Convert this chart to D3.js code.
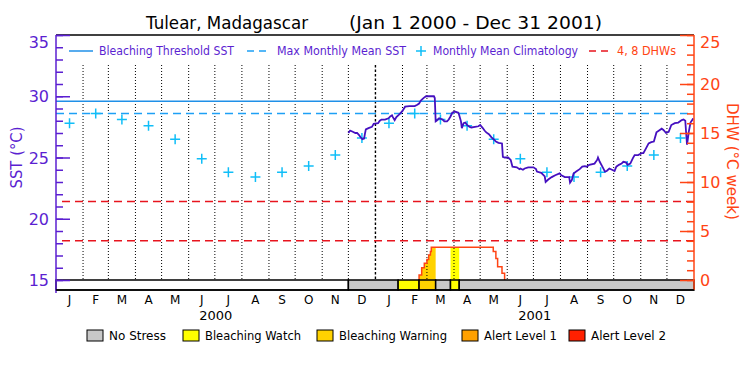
<!DOCTYPE html>
<html>
<head>
<meta charset="utf-8">
<style>
body { margin: 0; background: #fff; }
text { font-family: "DejaVu Sans", sans-serif; }
</style>
<script src="https://cdn.jsdelivr.net/npm/d3@7"></script>
</head>
<body>
<svg id="chart" width="750" height="375"></svg>
<script>
// month letters and year labels on the bottom axis
var monthLetters = ["J","F","M","A","M","J","J","A","S","O","N","D"];
var yearLabels = ["2000", "2001"];

// monthly mean climatology (same for both years)
var climatology = [27.8, 28.6, 28.1, 27.6, 26.5, 24.9, 23.8, 23.4, 23.8, 24.3, 25.2, 26.6];
var maxMonthlyMean = 28.6;
var bleachThreshold = 29.6;
var dhwLevels = [4, 8];

// satellite SST, Dec 2000 - Dec 2001
var sstDates = [
  "2000-12-01","2000-12-03","2000-12-06","2000-12-09","2000-12-11","2000-12-13","2000-12-15","2000-12-17","2000-12-19","2000-12-20","2000-12-21","2000-12-24","2000-12-28","2000-12-30",
  "2001-01-04","2001-01-06","2001-01-08","2001-01-12","2001-01-16","2001-01-18","2001-01-20","2001-01-21","2001-01-23","2001-01-25","2001-01-28","2001-01-30",
  "2001-02-01","2001-02-04","2001-02-09","2001-02-15","2001-02-18","2001-02-20","2001-02-22","2001-02-25","2001-02-28",
  "2001-03-04","2001-03-09","2001-03-10","2001-03-11","2001-03-12","2001-03-15","2001-03-19","2001-03-21","2001-03-24","2001-03-26","2001-03-28","2001-03-30",
  "2001-04-02","2001-04-06","2001-04-07","2001-04-09","2001-04-10","2001-04-12","2001-04-14","2001-04-16","2001-04-19","2001-04-21","2001-04-25","2001-04-29",
  "2001-05-01","2001-05-04","2001-05-06","2001-05-08","2001-05-11","2001-05-14","2001-05-17","2001-05-19","2001-05-22","2001-05-26","2001-05-27","2001-05-29",
  "2001-06-02","2001-06-05","2001-06-07","2001-06-12","2001-06-15","2001-06-16","2001-06-19","2001-06-21","2001-06-25",
  "2001-07-01","2001-07-04","2001-07-05","2001-07-10","2001-07-14","2001-07-15","2001-07-18","2001-07-22","2001-07-26","2001-07-31",
  "2001-08-02","2001-08-06","2001-08-11","2001-08-12","2001-08-14","2001-08-16","2001-08-19","2001-08-23","2001-08-26","2001-08-29","2001-08-31",
  "2001-09-03","2001-09-09","2001-09-12","2001-09-13","2001-09-15","2001-09-18","2001-09-21","2001-09-23","2001-09-26","2001-09-29",
  "2001-10-02","2001-10-04","2001-10-07","2001-10-10","2001-10-12","2001-10-15","2001-10-17","2001-10-20","2001-10-23","2001-10-25","2001-10-29",
  "2001-11-02","2001-11-04","2001-11-07","2001-11-10","2001-11-13","2001-11-16","2001-11-17","2001-11-19","2001-11-22","2001-11-25","2001-11-27","2001-11-30",
  "2001-12-03","2001-12-06","2001-12-10","2001-12-14","2001-12-18","2001-12-20","2001-12-22","2001-12-23","2001-12-24","2001-12-25","2001-12-26","2001-12-28","2001-12-30","2001-12-31"
];
var sstValues = [
  27.0,27.2,27.1,27.0,27.0,26.85,26.65,26.5,26.55,26.95,27.3,27.4,27.5,27.75,
  27.8,28.0,28.1,28.1,28.2,28.35,28.45,28.3,28.05,28.3,28.5,28.65,
  28.8,29.15,29.2,29.2,29.3,29.4,29.65,29.85,30.0,
  30.0,30.0,29.85,27.95,28.0,28.2,28.1,27.95,27.95,28.1,28.35,28.65,
  28.75,28.65,28.45,27.95,27.4,27.8,27.85,27.65,27.5,27.45,27.5,27.55,
  27.65,27.4,27.2,27.05,26.9,26.65,26.45,26.3,26.2,26.15,25.05,25.0,
  25.0,24.8,24.25,24.2,24.05,24.1,24.0,24.1,24.2,
  24.2,24.05,23.85,23.75,23.45,23.0,23.2,23.4,23.55,23.7,
  23.55,23.4,23.4,22.95,23.15,23.7,23.85,24.05,24.25,24.3,24.25,
  24.4,24.5,24.8,25.0,24.65,24.25,23.85,23.9,24.1,24.0,
  23.9,24.25,24.4,24.5,24.65,24.6,24.4,24.5,24.95,25.2,25.2,
  25.35,25.35,25.75,26.15,26.25,26.3,26.55,27.05,27.2,27.35,27.25,27.0,
  27.1,27.65,27.8,27.85,28.05,28.1,28.0,27.0,26.05,26.55,27.1,27.85,28.05,28.2
];

// degree heating weeks
var dhwDates = ["2001-02-19","2001-02-20","2001-02-23","2001-02-26","2001-03-01","2001-03-03","2001-03-05","2001-03-06","2001-05-16","2001-05-19","2001-05-21","2001-05-26","2001-05-29"];
var dhwValues = [0, 0.5, 1.25, 1.7, 2.1, 2.55, 2.9, 3.35, 2.9, 2.2, 1.35, 0.7, 0];

// bleaching alert status periods (0 no stress, 1 watch, 2 warning)
var statusStart = ["2000-12-01","2001-01-27","2001-02-20","2001-03-11","2001-03-28","2001-04-07"];
var statusEnd   = ["2001-01-27","2001-02-20","2001-03-11","2001-03-28","2001-04-07","2002-01-01"];
var statusLevel = [0, 1, 2, 0, 1, 0];

var statusNames  = ["No Stress","Bleaching Watch","Bleaching Warning","Alert Level 1","Alert Level 2"];
var statusColors = ["#c8c8c8","#ffff00","#ffd200","#ffa000","#ff2000"];

var purple = "#5b1fd1", orange = "#ff4414";

var parse = d3.utcParse("%Y-%m-%d");
var svg = d3.select("#chart");

var plotL = 56, plotR = 694, plotT = 35, plotB = 280, barB = 290, gridT = 65;

var x = d3.scaleUtc().domain([parse("2000-01-01"), parse("2002-01-01")]).range([plotL, plotR]);
var ySst = d3.scaleLinear().domain([15, 35]).range([plotB, plotT]);
var yDhw = d3.scaleLinear().domain([0, 25]).range([plotB, plotT]);

var months = d3.utcMonth.range(x.domain()[0], x.domain()[1]);
function midX(m) { return (x(m) + x(d3.utcMonth.offset(m, 1))) / 2; }

var sst = sstDates.map(function(d, i) { return {date: parse(d), v: sstValues[i]}; });
var dhw = dhwDates.map(function(d, i) { return {date: parse(d), v: dhwValues[i]}; });

function txt(g, s, tx, ty, len, size, color) {
  return g.append("text").attr("x", tx).attr("y", ty)
    .attr("font-size", size).attr("fill", color)
    .attr("textLength", len).attr("lengthAdjust", "spacingAndGlyphs").text(s);
}

// title
txt(svg, "Tulear, Madagascar", 146, 29, 162, 17, "#000");
txt(svg, "(Jan 1 2000 - Dec 31 2001)", 349, 29, 253, 17, "#000");

// DHW fills coloured by alert status
var area = d3.area().x(function(d) { return x(d.date); })
  .y0(plotB).y1(function(d) { return yDhw(d.v); }).curve(d3.curveStepAfter);
statusStart.forEach(function(s, i) {
  if (statusLevel[i] === 0) return;
  var id = "clip" + i;
  svg.append("clipPath").attr("id", id).append("rect")
    .attr("x", x(parse(s))).attr("width", x(parse(statusEnd[i])) - x(parse(s)))
    .attr("y", plotT).attr("height", plotB - plotT);
  svg.append("path").datum(dhw).attr("d", area)
    .attr("fill", statusColors[statusLevel[i]]).attr("clip-path", "url(#" + id + ")");
});

// dotted month lines
svg.append("g").selectAll("line").data(months.slice(1)).join("line")
  .attr("x1", function(d) { return x(d); }).attr("x2", function(d) { return x(d); })
  .attr("y1", gridT).attr("y2", plotB)
  .attr("stroke", "#000")
  .attr("stroke-width", function(d) { return d.getUTCMonth() === 0 ? 1.4 : 1; })
  .attr("stroke-dasharray", function(d) { return d.getUTCMonth() === 0 ? "2.5,2" : "1,2"; });

// reference lines
svg.append("line").attr("x1", plotL).attr("x2", plotR)
  .attr("y1", ySst(bleachThreshold)).attr("y2", ySst(bleachThreshold))
  .attr("stroke", "#2090e8").attr("stroke-width", 1.5);
svg.append("line").attr("x1", plotL).attr("x2", plotR)
  .attr("y1", ySst(maxMonthlyMean)).attr("y2", ySst(maxMonthlyMean))
  .attr("stroke", "#1ea0f5").attr("stroke-width", 1.5).attr("stroke-dasharray", "8,5");
svg.append("g").selectAll("line").data(dhwLevels).join("line")
  .attr("x1", plotL + 6).attr("x2", plotR)
  .attr("y1", function(d) { return yDhw(d); }).attr("y2", function(d) { return yDhw(d); })
  .attr("stroke", "#e8141e").attr("stroke-width", 1.5).attr("stroke-dasharray", "8,5");

// climatology crosses
var clim = months.map(function(m) { return {m: m, v: climatology[m.getUTCMonth()]}; });
svg.append("g").selectAll("path").data(clim).join("path")
  .attr("transform", function(d) { return "translate(" + midX(d.m) + "," + ySst(d.v) + ")"; })
  .attr("d", "M-5,0H5M0,-5V5").attr("stroke", "#10bef8").attr("stroke-width", 1.5);

// SST line
svg.append("path").datum(sst)
  .attr("d", d3.line().x(function(d) { return x(d.date); }).y(function(d) { return ySst(d.v); }))
  .attr("fill", "none").attr("stroke", "#4510c0").attr("stroke-width", 1.8);

// DHW line
svg.append("path").datum(dhw)
  .attr("d", d3.line().x(function(d) { return x(d.date); }).y(function(d) { return yDhw(d.v); }).curve(d3.curveStepAfter))
  .attr("fill", "none").attr("stroke", orange).attr("stroke-width", 1.5);

// status bar
svg.append("rect").attr("x", plotL).attr("y", plotB)
  .attr("width", x(parse(statusStart[0])) - plotL).attr("height", barB - plotB)
  .attr("fill", "#fff").attr("stroke", "#000").attr("stroke-width", 1.5);
svg.append("g").selectAll("rect").data(statusStart).join("rect")
  .attr("x", function(d) { return x(parse(d)); })
  .attr("width", function(d, i) { return x(parse(statusEnd[i])) - x(parse(d)); })
  .attr("y", plotB).attr("height", barB - plotB)
  .attr("fill", function(d, i) { return statusColors[statusLevel[i]]; })
  .attr("stroke", "#000").attr("stroke-width", 1.5);

// frame
svg.append("line").attr("x1", plotL).attr("x2", plotR).attr("y1", plotT).attr("y2", plotT)
  .attr("stroke", "#000").attr("stroke-width", 1.5);

// left axis
var gl = svg.append("g").attr("transform", "translate(" + plotL + ",0)");
gl.call(d3.axisLeft(ySst).tickValues(d3.range(15, 36)).tickSizeInner(-7).tickSizeOuter(0).tickFormat(""));
gl.append("g").call(d3.axisLeft(ySst).tickValues([15, 20, 25, 30, 35]).tickSizeInner(-14).tickSizeOuter(0).tickPadding(7));
gl.selectAll(".domain").remove();
gl.selectAll("line").attr("stroke", purple).attr("stroke-width", 1.5);
gl.selectAll("text").attr("fill", purple).attr("font-size", 16)
  .attr("font-family", "DejaVu Sans, sans-serif")
  .attr("dy", function(d) { return d === 35 ? "0.75em" : "0.35em"; });
gl.append("line").attr("y1", plotT).attr("y2", barB + 3).attr("stroke", purple).attr("stroke-width", 1.5);

// right axis
var gr = svg.append("g").attr("transform", "translate(" + plotR + ",0)");
gr.call(d3.axisRight(yDhw).tickValues(d3.range(0, 26)).tickSizeInner(-7).tickSizeOuter(0).tickFormat(""));
gr.append("g").call(d3.axisRight(yDhw).tickValues([0, 5, 10, 15, 20, 25]).tickSizeInner(-14).tickSizeOuter(0).tickPadding(6));
gr.selectAll(".domain").remove();
gr.selectAll("line").attr("stroke", orange).attr("stroke-width", 1.5);
gr.selectAll("text").attr("fill", orange).attr("font-size", 16)
  .attr("font-family", "DejaVu Sans, sans-serif")
  .attr("dy", function(d) { return d === 25 ? "0.75em" : "0.35em"; });
gr.append("line").attr("y1", plotT).attr("y2", barB).attr("stroke", orange).attr("stroke-width", 1.5);

svg.append("line").attr("x1", plotL).attr("x2", plotR).attr("y1", barB).attr("y2", barB)
  .attr("stroke", "#000").attr("stroke-width", 1.5);

// axis titles
svg.append("text").attr("transform", "translate(17," + ((plotT + plotB) / 2) + ") rotate(-90)")
  .attr("text-anchor", "middle").attr("dy", "0.35em").attr("font-size", 15).attr("fill", purple)
  .attr("textLength", 62).attr("lengthAdjust", "spacingAndGlyphs").text("SST (°C)");
svg.append("text").attr("transform", "translate(732," + ((plotT + plotB) / 2 + 4) + ") rotate(90)")
  .attr("text-anchor", "middle").attr("dy", "0.35em").attr("font-size", 15).attr("fill", orange)
  .attr("textLength", 117).attr("lengthAdjust", "spacingAndGlyphs").text("DHW (°C week)");

// month letters and years
svg.append("g").selectAll("text").data(months).join("text")
  .attr("x", midX).attr("y", 304).attr("text-anchor", "middle")
  .attr("font-size", 12).attr("fill", "#000")
  .text(function(d) { return monthLetters[d.getUTCMonth()]; });
svg.append("g").selectAll("text").data(yearLabels).join("text")
  .attr("x", function(d) { var y0 = parse(d + "-01-01"); return (x(y0) + x(d3.utcYear.offset(y0, 1))) / 2; })
  .attr("y", 320).attr("text-anchor", "middle").attr("font-size", 13).attr("fill", "#000")
  .text(function(d) { return d; });

// top legend
var lg = svg.append("g");
lg.append("line").attr("x1", 69).attr("x2", 93).attr("y1", 51).attr("y2", 51).attr("stroke", "#2090e8").attr("stroke-width", 1.5);
txt(lg, "Bleaching Threshold SST", 99, 55, 135, 12, purple);
lg.append("line").attr("x1", 247).attr("x2", 270).attr("y1", 51).attr("y2", 51).attr("stroke", "#1ea0f5").attr("stroke-width", 1.5).attr("stroke-dasharray", "7,5");
txt(lg, "Max Monthly Mean SST", 277, 55, 129, 12, purple);
lg.append("path").attr("transform", "translate(421,51)").attr("d", "M-5,0H5M0,-5V5").attr("stroke", "#10bef8").attr("stroke-width", 1.5);
txt(lg, "Monthly Mean Climatology", 433, 55, 145, 12, purple);
lg.append("line").attr("x1", 589).attr("x2", 611).attr("y1", 51).attr("y2", 51).attr("stroke", "#e8141e").attr("stroke-width", 1.5).attr("stroke-dasharray", "7,5");
txt(lg, "4, 8 DHWs", 617, 55, 59, 12, orange);

// status legend
var legX = [87, 183, 317, 462, 569];
var legW = [57, 96, 108, 73, 75];
var sl = svg.append("g").selectAll("g").data(statusNames).join("g");
sl.append("rect").attr("x", function(d, i) { return legX[i]; }).attr("y", 330)
  .attr("width", 16).attr("height", 11)
  .attr("fill", function(d, i) { return statusColors[i]; }).attr("stroke", "#000").attr("stroke-width", 1);
sl.append("text").attr("x", function(d, i) { return legX[i] + 22; }).attr("y", 340)
  .attr("font-size", 12).attr("fill", "#000")
  .attr("textLength", function(d, i) { return legW[i]; }).attr("lengthAdjust", "spacingAndGlyphs")
  .text(function(d) { return d; });
</script>
</body>
</html>
